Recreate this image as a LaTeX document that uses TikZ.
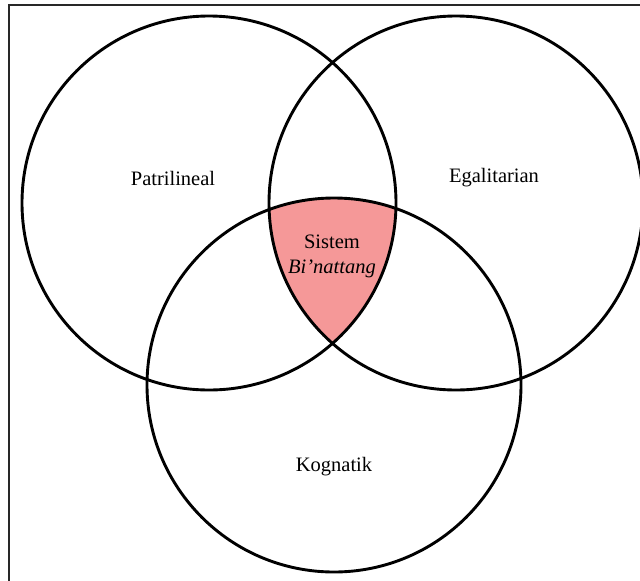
\documentclass[tikz,border=0pt]{standalone}
\usepackage{fontspec}
\setmainfont{Liberation Serif}
\definecolor{pinkfill}{RGB}{245,152,152}
\definecolor{framegrey}{RGB}{40,40,40}
\begin{document}
\begin{tikzpicture}[x=1pt,y=-1pt,
  ring/.style={draw=black,line width=2.9pt},
  lbl/.style={font=\fontsize{20.5}{24}\selectfont,inner sep=0pt,align=center}]
\useasboundingbox (0,0) rectangle (640,581);
\clip (0,0) rectangle (640,581);
\fill[white] (0,0) rectangle (640,581);
\draw[framegrey,line width=1.2pt] (9,5) rectangle (660,600);
\coordinate (cl) at (209,203);
\coordinate (cr) at (456,203);
\coordinate (cb) at (334,385);
\begin{scope}
  \clip (cl) circle[radius=187];
  \clip (cr) circle[radius=187];
  \fill[pinkfill] (cb) circle[radius=187];
\end{scope}
\draw[ring] (cl) circle[radius=187];
\draw[ring] (cr) circle[radius=187];
\draw[ring] (cb) circle[radius=187];
\node[lbl] (pat) at (173,178) {Patrilineal};
\node[lbl] (ega) at (494,178) {Egalitarian};
\node[lbl] (kog) at (334,467) {Kognatik};
\node[lbl] (sis) at (332,256) {Sistem\\[1pt]\itshape Bi’nattang};
\end{tikzpicture}
\end{document}
